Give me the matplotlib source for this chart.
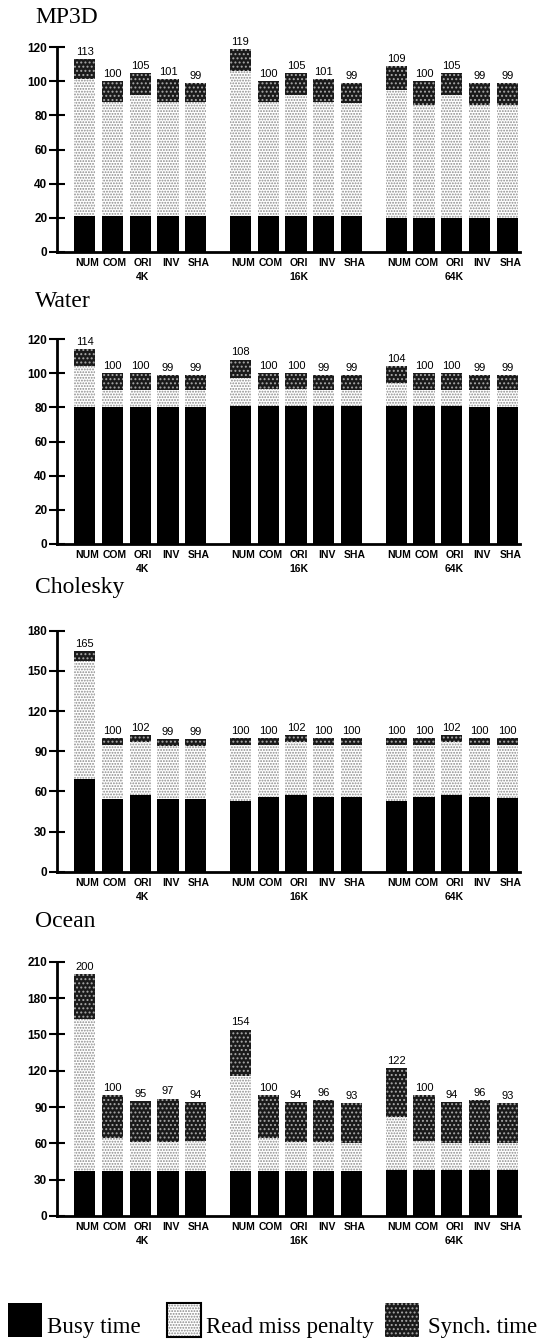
import matplotlib
matplotlib.use("Agg")
import matplotlib.pyplot as plt
from matplotlib.patches import Rectangle
import numpy as np

plt.rcParams["hatch.linewidth"] = 0.9

# categories
schemes = ["NUM", "COM", "ORI", "INV", "SHA"]
cache_sizes = ["4K", "16K", "64K"]

# MP3D (4K, 16K, 64K x NUM..SHA)
mp3d_busy = [21, 21, 21, 21, 21, 21, 21, 21, 21, 21, 20, 20, 20, 20, 20]
mp3d_read = [80, 67, 71, 67, 67, 85, 67, 71, 67, 66, 75, 66, 72, 66, 66]
mp3d_sync = [12, 12, 13, 13, 11, 13, 12, 13, 13, 12, 14, 14, 13, 13, 13]

# Water
water_busy = [80, 80, 80, 80, 80, 81, 81, 81, 81, 81, 81, 81, 81, 80, 80]
water_read = [24, 10, 10, 10, 10, 16, 10, 10, 9, 9, 13, 9, 9, 10, 10]
water_sync = [10, 10, 10, 9, 9, 11, 9, 9, 9, 9, 10, 10, 10, 9, 9]

# Cholesky
chol_busy = [69, 54, 57, 54, 54, 53, 56, 57, 56, 56, 53, 56, 57, 56, 55]
chol_read = [88, 41, 40, 40, 40, 42, 39, 40, 39, 39, 42, 39, 40, 39, 40]
chol_sync = [8, 5, 5, 5, 5, 5, 5, 5, 5, 5, 5, 5, 5, 5, 5]

# Ocean
ocean_busy = [37, 37, 37, 37, 37, 37, 37, 37, 37, 37, 38, 38, 38, 38, 38]
ocean_read = [126, 27, 24, 24, 25, 79, 27, 24, 24, 23, 44, 24, 22, 22, 22]
ocean_sync = [37, 36, 34, 36, 32, 38, 36, 33, 35, 33, 40, 38, 34, 36, 33]

W, H = 543, 1342
fig = plt.figure(figsize=(W / 100, H / 100), dpi=100)

SANS = "Liberation Sans"
SERIF = "Liberation Serif"

read_style = dict(facecolor="white", edgecolor="#8a8a8a", hatch="......", linewidth=0)
sync_style = dict(facecolor="#1a1a1a", edgecolor="#a8a8a8", hatch="....", linewidth=0)


def px_axes(top, bottom, left=57, right=520):
    return fig.add_axes([left / W, 1 - bottom / H, (right - left) / W, (bottom - top) / H])


def draw_panel(ax, title, title_base, busy, read, sync, ymax, step):
    busy = np.array(busy)
    read = np.array(read)
    sync = np.array(sync)
    x = np.array([g * 5.6 + k for g in range(3) for k in range(5)])
    w = 0.76

    ax.bar(x, busy, w, color="black", linewidth=0)
    ax.bar(x, read, w, bottom=busy, **read_style)
    ax.bar(x, sync, w, bottom=busy + read, **sync_style)

    totals = busy + read + sync
    for xi, t in zip(x, totals):
        ax.annotate(str(t), (xi, t), xytext=(0, 1.5), textcoords="offset points",
                    ha="center", va="bottom", fontsize=8, family=SANS)

    ax.set_xlim(-0.99, x[-1] + 0.45)
    ax.set_ylim(0, ymax)
    ax.set_yticks(np.arange(0, ymax + 1, step))
    ax.set_xticks([])
    for s in ["top", "right"]:
        ax.spines[s].set_visible(False)
    ax.spines["left"].set_linewidth(2)
    ax.spines["bottom"].set_linewidth(2)
    ax.tick_params(axis="y", direction="inout", length=12, width=1.5, pad=1)
    for lab in ax.get_yticklabels():
        lab.set_fontfamily(SANS)
        lab.set_fontweight("bold")
        lab.set_fontsize(8.5)

    tr = ax.get_xaxis_transform()
    for k, xi in enumerate(x):
        ax.annotate(schemes[k % 5], (xi + 0.1, 0), xycoords=tr, xytext=(0, -4.5),
                    textcoords="offset points", ha="center", va="top",
                    fontsize=7.5, fontweight="bold", family=SANS)
    for g, name in enumerate(cache_sizes):
        ax.annotate(name, (g * 5.6 + 2.1, 0), xycoords=tr, xytext=(0, -14.5),
                    textcoords="offset points", ha="center", va="top",
                    fontsize=7.5, fontweight="bold", family=SANS)

    fig.text(35 / W, 1 - title_base / H, title, ha="left", va="baseline",
             fontsize=17, family=SERIF)


draw_panel(px_axes(47, 252), "MP3D", 23, mp3d_busy, mp3d_read, mp3d_sync, 120, 20)
draw_panel(px_axes(339, 544), "Water", 307, water_busy, water_read, water_sync, 120, 20)
draw_panel(px_axes(630.7, 871.7), "Cholesky", 593, chol_busy, chol_read, chol_sync, 180, 30)
draw_panel(px_axes(961.7, 1216), "Ocean", 927, ocean_busy, ocean_read, ocean_sync, 210, 30)

# legend
legend_items = [("Busy time", 8, 47, dict(facecolor="black", edgecolor="black", linewidth=0)),
                ("Read miss penalty", 167, 206, read_style),
                ("Synch. time", 385, 428, sync_style)]
for label, bx, tx, style in legend_items:
    fig.patches.append(Rectangle((bx / W, 1 - 1337 / H), 34 / W, 34 / H,
                                 transform=fig.transFigure, **style))
    if label == "Read miss penalty":
        fig.patches.append(Rectangle((bx / W, 1 - 1337 / H), 34 / W, 34 / H,
                                     transform=fig.transFigure, facecolor="none",
                                     edgecolor="black", linewidth=1.5))
    fig.text(tx / W, 1 - 1333 / H, label, ha="left", va="baseline",
             fontsize=16.5, family=SERIF)

fig.savefig("out.png", dpi=100)
